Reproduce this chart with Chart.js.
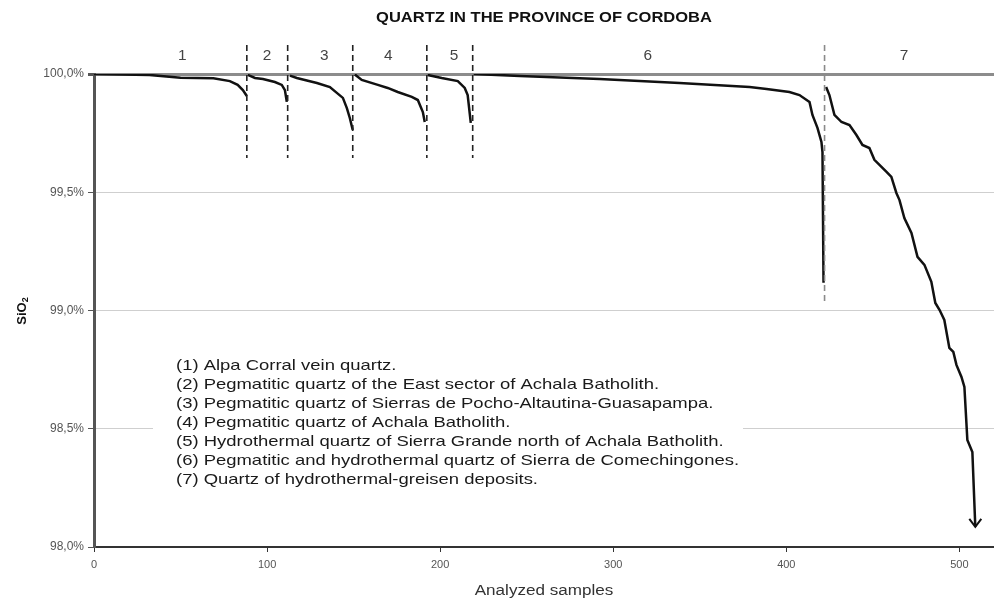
<!DOCTYPE html>
<html>
<head>
<meta charset="utf-8">
<title>Quartz in the province of Cordoba</title>
<script src="https://cdn.jsdelivr.net/npm/chart.js@4.4.0/dist/chart.umd.min.js"></script>
<style>
    html, body { margin: 0; padding: 0; background: #fff; }
    #wrap { width: 994px; height: 601px; }
</style>
</head>
<body>
<div id="wrap"><canvas id="quartzChart" width="994" height="601"></canvas></div>
<script>
// sample index / SiO2 (%), one pair of arrays per group
const group1X = [0, 32, 50, 69, 78.5, 83, 86, 88.3];
const group1Y = [100.000, 99.996, 99.984, 99.982, 99.970, 99.954, 99.932, 99.907];

const group2X = [88.9, 93, 97.6, 104.5, 108.5, 110.3, 111.4];
const group2Y = [99.996, 99.983, 99.979, 99.966, 99.954, 99.932, 99.882];

const group3X = [113.2, 117.2, 121.8, 128.8, 136.3, 140.3, 143.8, 146.1, 147.8, 149.5];
const group3Y = [99.993, 99.983, 99.975, 99.962, 99.945, 99.920, 99.899, 99.856, 99.814, 99.763];

const group4X = [150.7, 154.7, 164, 169.7, 175.5, 183.6, 187.1, 190.0, 191.1];
const group4Y = [99.998, 99.975, 99.954, 99.941, 99.924, 99.903, 99.890, 99.839, 99.797];

const group5X = [192.8, 200.9, 210.2, 214.2, 215.9, 217.7];
const group5Y = [99.996, 99.983, 99.970, 99.941, 99.911, 99.793];

const group6X = [219.4, 246, 292.1, 338.3, 378.8, 388.6, 401.8, 407.6, 413.4, 415.1, 418.0, 420.3, 420.9, 421.5];
const group6Y = [100.000, 99.992, 99.979, 99.962, 99.945, 99.937, 99.924, 99.911, 99.882, 99.827, 99.772, 99.713, 99.670, 99.117];

const group7X = [423, 424.9, 427.8, 431.9, 436.5, 440.5, 444.0, 448.0, 450.9, 457.9, 460.7, 463.6, 465.4, 468.2,
    472.3, 475.8, 479.8, 483.8, 486.1, 488.5, 491.3, 494.2, 496.5, 498.3, 501.2, 502.9, 504.6, 507.5, 509.2];
const group7Y = [99.945, 99.911, 99.827, 99.797, 99.784, 99.742, 99.700, 99.687, 99.637, 99.586, 99.565, 99.497, 99.467, 99.391,
    99.328, 99.227, 99.193, 99.121, 99.032, 99.003, 98.960, 98.842, 98.825, 98.770, 98.719, 98.677, 98.453, 98.402, 98.085];

// group boundaries (dashed) and the group numbers above the plot
const dividerX = [88.3, 111.9, 149.5, 192.3, 218.8, 422.1];
const dividerBottom = [99.645, 99.645, 99.645, 99.645, 99.645, 99.024];
const dividerTop = 100.123;
const groupLabels = ['1', '2', '3', '4', '5', '6', '7'];
const groupLabelX = [51, 100, 133, 170, 208, 320, 468];

const xTicks = [0, 100, 200, 300, 400, 500];
const yTicks = [98.0, 98.5, 99.0, 99.5, 100.0];

const legendLines = [
    '(1) Alpa Corral vein quartz.',
    '(2) Pegmatitic quartz of the East sector of Achala Batholith.',
    '(3) Pegmatitic quartz of Sierras de Pocho-Altautina-Guasapampa.',
    '(4) Pegmatitic quartz of Achala Batholith.',
    '(5) Hydrothermal quartz of Sierra Grande north of Achala Batholith.',
    '(6) Pegmatitic and hydrothermal quartz of Sierra de Comechingones.',
    '(7) Quartz of hydrothermal-greisen deposits.'
];

const FONT = '"Liberation Sans", Arial, Helvetica, sans-serif';

// the scanned figure is a bit wider than tall, so text gets a horizontal stretch
function stretchedText(ctx, text, x, y, sx, align) {
    ctx.save();
    ctx.translate(x, y);
    ctx.scale(sx, 1);
    ctx.textAlign = align;
    ctx.fillText(text, 0, 0);
    ctx.restore();
}

class QuartzChart {
    constructor() {
        this.groups = [
            [group1X, group1Y], [group2X, group2Y], [group3X, group3Y], [group4X, group4Y],
            [group5X, group5Y], [group6X, group6Y], [group7X, group7Y]
        ];
        this.chart = null;
        this.init();
    }

    init() {
        Chart.defaults.font.family = FONT;
        this.render();
    }

    buildDatasets() {
        const curves = this.groups.map(([xs, ys], i) => ({
            label: 'group ' + (i + 1),
            data: xs.map((x, k) => ({ x: x, y: ys[k] })),
            borderColor: '#111',
            borderWidth: 2.5,
            pointRadius: 0,
            tension: 0,
            fill: false
        }));

        const dividers = dividerX.map((x, i) => ({
            label: 'divider ' + (i + 1),
            data: [{ x: x, y: dividerTop }, { x: x, y: dividerBottom[i] }],
            borderColor: i === dividerX.length - 1 ? '#8a8a8a' : '#222',
            borderWidth: 1.6,
            borderDash: [6, 4],
            pointRadius: 0,
            clip: false
        }));

        return dividers.concat(curves);
    }

    overlayPlugin() {
        return {
            id: 'overlay',
            beforeDatasetsDraw(chart) {
                const { ctx, chartArea } = chart;
                ctx.save();
                ctx.fillStyle = '#fff';
                ctx.fillRect(chartArea.left + 59, 352, 590, 138);
                ctx.fillStyle = '#1a1a1a';
                ctx.font = '15px ' + FONT;
                ctx.textBaseline = 'middle';
                legendLines.forEach((line, i) => {
                    stretchedText(ctx, line, chartArea.left + 82, 366 + i * 19, 1.23, 'left');
                });
                ctx.restore();
            },
            afterDraw(chart) {
                const { ctx, chartArea, scales } = chart;
                const midX = (chartArea.left + chartArea.right) / 2;
                ctx.save();
                ctx.textBaseline = 'middle';

                ctx.fillStyle = '#111';
                ctx.font = 'bold 14px ' + FONT;
                stretchedText(ctx, 'QUARTZ IN THE PROVINCE OF CORDOBA', midX, 18, 1.18, 'center');

                ctx.fillStyle = '#444';
                ctx.font = '14px ' + FONT;
                groupLabels.forEach((t, i) => {
                    stretchedText(ctx, t, scales.x.getPixelForValue(groupLabelX[i]), 56, 1.1, 'center');
                });

                ctx.fillStyle = '#333';
                ctx.font = '14px ' + FONT;
                stretchedText(ctx, 'Analyzed samples', midX, 591, 1.22, 'center');

                // y title with a real subscript
                ctx.translate(22, (chartArea.top + chartArea.bottom) / 2);
                ctx.rotate(-Math.PI / 2);
                ctx.fillStyle = '#111';
                ctx.font = 'bold 13px ' + FONT;
                const w = ctx.measureText('SiO').width;
                ctx.textAlign = 'left';
                ctx.fillText('SiO', -w / 2 - 3, 0);
                ctx.font = 'bold 9px ' + FONT;
                ctx.fillText('2', w / 2 - 3, 4);
                ctx.restore();

                // arrow head at the end of group 7
                const meta = chart.getDatasetMeta(chart.data.datasets.length - 1);
                const last = meta.data[meta.data.length - 1];
                ctx.save();
                ctx.strokeStyle = '#111';
                ctx.lineWidth = 2;
                ctx.beginPath();
                ctx.moveTo(last.x - 6, last.y - 8);
                ctx.lineTo(last.x, last.y);
                ctx.lineTo(last.x + 6, last.y - 8);
                ctx.stroke();
                ctx.restore();
            }
        };
    }

    render() {
        const ctx = document.getElementById('quartzChart').getContext('2d');
        if (this.chart) this.chart.destroy();

        this.chart = new Chart(ctx, {
            type: 'line',
            data: { datasets: this.buildDatasets() },
            plugins: [this.overlayPlugin()],
            options: {
                responsive: false,
                animation: false,
                events: [],
                layout: { padding: { top: 74, right: 0, left: 0, bottom: 0 } },
                plugins: {
                    legend: { display: false },
                    title: { display: false },
                    tooltip: { enabled: false }
                },
                scales: {
                    x: {
                        type: 'linear',
                        min: 0,
                        max: 520,
                        afterFit: scale => { scale.height = 54; },
                        afterBuildTicks: scale => { scale.ticks = xTicks.map(v => ({ value: v })); },
                        ticks: { color: '#555', font: { size: 11 }, padding: 6, maxRotation: 0 },
                        grid: { drawOnChartArea: false, tickLength: 5, color: '#333', lineWidth: 1 },
                        border: { display: true, color: '#333', width: 2 }
                    },
                    y: {
                        min: 98,
                        max: 100,
                        afterFit: scale => { scale.width = 94; },
                        afterBuildTicks: scale => { scale.ticks = yTicks.map(v => ({ value: v })); },
                        ticks: {
                            color: '#555',
                            font: { size: 12 },
                            padding: 4,
                            callback: value => value.toFixed(1).replace('.', ',') + '%'
                        },
                        grid: {
                            tickLength: 6,
                            tickColor: '#555',
                            color: c => (c.tick && c.tick.value === 100 ? '#8c8c8c' : '#cfcfcf'),
                            lineWidth: c => (c.tick && c.tick.value === 100 ? 3 : 1)
                        },
                        border: { display: true, color: '#555', width: 3 }
                    }
                }
            }
        });
    }
}

document.addEventListener('DOMContentLoaded', () => {
    new QuartzChart();
});
</script>
</body>
</html>
